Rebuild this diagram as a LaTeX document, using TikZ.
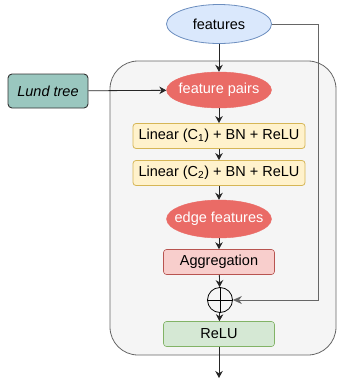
\documentclass[tikz,border=0pt]{standalone}
\usepackage{fontspec}
\setmainfont{Liberation Sans}
\usetikzlibrary{arrows.meta,shapes.geometric}

\definecolor{featfill}{HTML}{DAE8FC}
\definecolor{featline}{HTML}{6C8EBF}
\definecolor{redfill}{HTML}{EA6B66}
\definecolor{yelfill}{HTML}{FFF2CC}
\definecolor{yelline}{HTML}{D6B656}
\definecolor{pinkfill}{HTML}{F8CECC}
\definecolor{pinkline}{HTML}{B85450}
\definecolor{greenfill}{HTML}{D5E8D4}
\definecolor{greenline}{HTML}{82B366}
\definecolor{lundfill}{HTML}{9AC7BF}
\definecolor{panelfill}{HTML}{F5F5F5}
\definecolor{panelline}{HTML}{666666}

\tikzset{
  x=1pt, y=-1pt,
  every node/.style={font=\fontsize{14.5}{17}\selectfont, inner sep=0pt},
  ell/.style={ellipse, inner xsep=-12pt, minimum width=105pt, minimum height=38pt},
  inputell/.style={ell, draw=featline, fill=featfill, line width=0.8pt},
  redell/.style={ell, draw=redfill, fill=redfill, text=white},
  linbox/.style={rectangle, rounded corners=3pt, draw=yelline, fill=yelfill, line width=0.8pt, minimum width=172pt, minimum height=25pt},
  pinkbox/.style={rectangle, rounded corners=3pt, draw=pinkline, fill=pinkfill, line width=0.6pt, minimum width=111pt, minimum height=25pt},
  greenbox/.style={rectangle, rounded corners=3pt, draw=greenline, fill=greenfill, line width=0.6pt, minimum width=111pt, minimum height=25pt},
  lundbox/.style={rectangle, rounded corners=4pt, draw=black!80, fill=lundfill, line width=0.9pt, minimum width=80pt, minimum height=34pt, font=\fontsize{14.5}{17}\selectfont\itshape},
  flow/.style={draw=black!85, line width=0.8pt, -{Stealth[length=7pt,width=7.5pt]}},
  skip/.style={draw=black!60, line width=0.8pt, -{Stealth[length=9pt,width=8pt]}},
}

\begin{document}
\begin{tikzpicture}
\useasboundingbox (0,0) rectangle (337,381);

% shared block panel
\draw[fill=panelfill, draw=panelline, line width=0.8pt, rounded corners=28pt]
  (110,61) rectangle (336,355);

% nodes
\node[inputell, minimum height=39pt] (feat) at (219,24) {features};
\node[lundbox] (lund) at (48,91) {Lund tree};
\node[redell, minimum height=36pt] (pairs) at (219,90) {feature pairs};
\node[linbox] (lin1) at (219,136) {Linear (C\textsubscript{1}) + BN + ReLU};
\node[linbox] (lin2) at (219,173) {Linear (C\textsubscript{2}) + BN + ReLU};
\node[redell] (edge) at (219,219) {edge features};
\node[pinkbox] (agg) at (219,262) {Aggregation};
\node[circle, draw=black, line width=0.8pt, minimum size=25pt] (sum) at (220,300) {};
\draw[line width=0.8pt] (sum.north) -- (sum.south) (sum.west) -- (sum.east);
\node[greenbox] (relu) at (219,334) {ReLU};
\coordinate (out) at (219,378);
\coordinate (skipa) at (318,24);
\coordinate (skipb) at (318,300);

% connectors
\draw[flow] (feat) -- (pairs);
\draw[flow] (lund) -- (pairs);
\draw[flow] (pairs) -- (lin1);
\draw[flow] (lin1) -- (lin2);
\draw[flow] (lin2) -- (edge);
\draw[flow] (edge) -- (agg);
\draw[flow] (agg) -- (sum);
\draw[flow] (sum) -- (relu);
\draw[flow] (relu) -- (out);
\draw[skip] (feat.east) -- (skipa) -- (skipb) -- (sum.east);
\end{tikzpicture}
\end{document}
